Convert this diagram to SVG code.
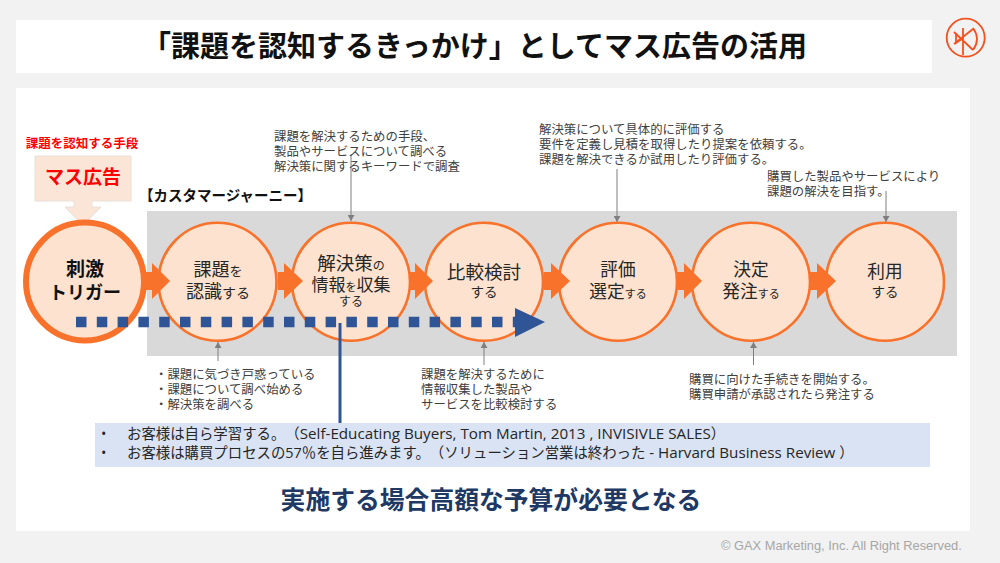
<svg xmlns="http://www.w3.org/2000/svg" width="1000" height="563" viewBox="0 0 1000 563">
<style>
text{font-family:"Open Sans","Noto Sans CJK JP",sans-serif;fill:#404040;font-size:12.4px;text-spacing-trim:space-all}
.c{text-anchor:middle;fill:#262626}
.node{fill:#fde3cf;stroke:#f9722b;stroke-width:2.6}
.chev{fill:#f9722b}
.lead{stroke:#7f7f7f;stroke-width:1;fill:none;marker-end:url(#g)}
.l{font-size:18px}.m{font-size:14px}.s{font-size:11px}
.n{font-size:14.4px;fill:#262626}
.lat{font-size:15.2px}
</style>
<defs><marker id="g" markerUnits="userSpaceOnUse" markerWidth="7" markerHeight="7" refX="6" refY="3.5" orient="auto"><path d="M0 0L6 3.5L0 7z" fill="#7f7f7f"/></marker></defs>
<rect width="1000" height="563" fill="#f2f2f2"/>
<rect x="16" y="20" width="916" height="53" fill="#fff"/>
<text x="474.500" y="57" text-anchor="middle" style="font-size:29px;font-weight:700;fill:#111">「課題を認知するきっかけ」としてマス広告の活用</text>
<g id="logo" fill="none" stroke="#f4511e" stroke-width="1.8"><circle cx="965.700" cy="37.700" r="19"/><path d="M963 28V55M954 32L973 50M954 44L973 29M956 33V43L963 38M973 28Q981 39 973 50"/></g>
<rect x="16" y="88" width="954" height="443" fill="#fff"/>
<rect x="147" y="211" width="810" height="145" fill="#d9d9d9"/>
<text x="721" y="550" style="font-size:12.85px;fill:#a6a6a6;font-family:'Liberation Sans',sans-serif">© GAX Marketing, Inc. All Right Reserved.</text>
<g id="source-label"><text x="82" y="148" text-anchor="middle" style="font-size:12.5px;font-weight:700;fill:#ff0000">課題を認知する手段</text></g>
<g id="mass-ad"><path d="M35 156H131V201H92V207H101L83 225L65 207H74V201H35Z" fill="#fbe5d6" stroke="#e7e0da"/><text x="83" y="184" text-anchor="middle" style="font-size:19px;font-weight:700;fill:#ff0000">マス広告</text></g>
<text x="139" y="201" style="font-size:14.500px;font-weight:700;fill:#111">【カスタマージャーニー】</text>
<g id="n0"><circle cx="85" cy="281.500" r="59" fill="#fde3cf" stroke="#f9722b" stroke-width="6"/><text class="c" x="85" y="276" style="font-size:19px;font-weight:700;fill:#111">刺激</text><text class="c" x="85" y="299" style="font-size:18px;font-weight:700;fill:#111">トリガー</text></g>
<g id="n1"><circle class="node" cx="217.500" cy="281.700" r="59"/><text class="c" x="218" y="276"><tspan class="l">課題</tspan><tspan style="font-size:13px">を</tspan></text><text class="c" x="218" y="298"><tspan class="l">認識</tspan><tspan class="m">する</tspan></text></g>
<g id="n2"><circle class="node" cx="351" cy="281.700" r="59"/><text class="c" x="351" y="270"><tspan style="font-size:18.500px">解決策</tspan><tspan style="font-size:12px">の</tspan></text><text class="c" x="351" y="291"><tspan style="font-size:17px">情報</tspan><tspan class="s">を</tspan><tspan style="font-size:17px">収集</tspan></text><text class="c" x="351" y="306" style="font-size:12px">する</text></g>
<g id="n3"><circle class="node" cx="484" cy="281.700" r="59"/><text class="c" x="484" y="279" style="font-size:18.600px">比較検討</text><text class="c" x="484" y="297" style="font-size:13.500px">する</text></g>
<g id="n4"><circle class="node" cx="618" cy="281.700" r="59"/><text class="c" x="618" y="276" style="font-size:17.700px">評価</text><text class="c" x="618" y="298"><tspan style="font-size:17.700px">選定</tspan><tspan class="s">する</tspan></text></g>
<g id="n5"><circle class="node" cx="751" cy="281.700" r="59"/><text class="c" x="751" y="276" style="font-size:17.700px">決定</text><text class="c" x="751" y="298"><tspan style="font-size:17.700px">発注</tspan><tspan class="s">する</tspan></text></g>
<g id="n6"><circle class="node" cx="885" cy="281.700" r="59"/><text class="c" x="885" y="278" style="font-size:17.700px">利用</text><text class="c" x="885" y="297" style="font-size:13.500px">する</text></g>
<g id="connectors">
<path class="chev" d="M144 272H152V263L170 281L152 299V290H144Z"/>
<path class="chev" d="M278 272H284V263L303 281L284 299V290H278Z"/>
<path class="chev" d="M410 272H415V263L433 281L415 299V290H410Z"/>
<path class="chev" d="M544 272H551V263L570 281L551 299V290H544Z"/>
<path class="chev" d="M677 272H684V263L702 281L684 299V290H677Z"/>
<path class="chev" d="M810 272H817V263L836 281L817 299V290H810Z"/>
<path class="lead" d="M351 155V221"/><path class="lead" d="M617 169V222"/><path class="lead" d="M886 191V222"/>
<path class="lead" d="M218 361V342"/><path class="lead" d="M484 365V342"/><path class="lead" d="M753.500 365V342"/>
</g>
<g id="flow"><line x1="76" y1="322" x2="515" y2="322" stroke="#2f5597" stroke-width="10.500" stroke-dasharray="10.500 10.300"/><path d="M515 308L545 322L515 337Z" fill="#2f5597"/><line x1="340" y1="323" x2="340" y2="424" stroke="#2f5597" stroke-width="3"/></g>
<text x="274" y="141">課題を解決するための手段、</text><text x="274" y="156">製品やサービスについて調べる</text><text x="274" y="171">解決策に関するキーワードで調査</text>
<text x="539" y="134">解決策について具体的に評価する</text><text x="539" y="149">要件を定義し見積を取得したり提案を依頼する。</text><text x="539" y="164">課題を解決できるか試用したり評価する。</text>
<text x="767" y="181">購買した製品やサービスにより</text><text x="767" y="196">課題の解決を目指す。</text>
<text x="155" y="379">・課題に気づき戸惑っている</text><text x="155" y="394">・課題について調べ始める</text><text x="155" y="409">・解決策を調べる</text>
<text x="421" y="379">課題を解決するために</text><text x="421" y="394">情報収集した製品や</text><text x="421" y="409">サービスを比較検討する</text>
<text x="689" y="384">購買に向けた手続きを開始する。</text><text x="689" y="399">購買申請が承認されたら発注する</text>
<g id="note"><rect x="95" y="423" width="835" height="44" fill="#dae3f3"/><text class="n" x="101" y="439">•</text><text class="n" x="127" y="439">お客様は自ら学習する。（<tspan class="lat">Self-Educating Buyers, Tom Martin, 2013 , INVISIVLE SALES</tspan>）</text><text class="n" x="101" y="458">•</text><text class="n" x="127" y="458">お客様は購買プロセスの57％を自ら進みます。（ソリューション営業は終わった <tspan class="lat">- Harvard Business Review </tspan>）</text></g>
<text x="491" y="509" text-anchor="middle" style="font-size:24.800px;font-weight:700;fill:#203864">実施する場合高額な予算が必要となる</text>
</svg>
